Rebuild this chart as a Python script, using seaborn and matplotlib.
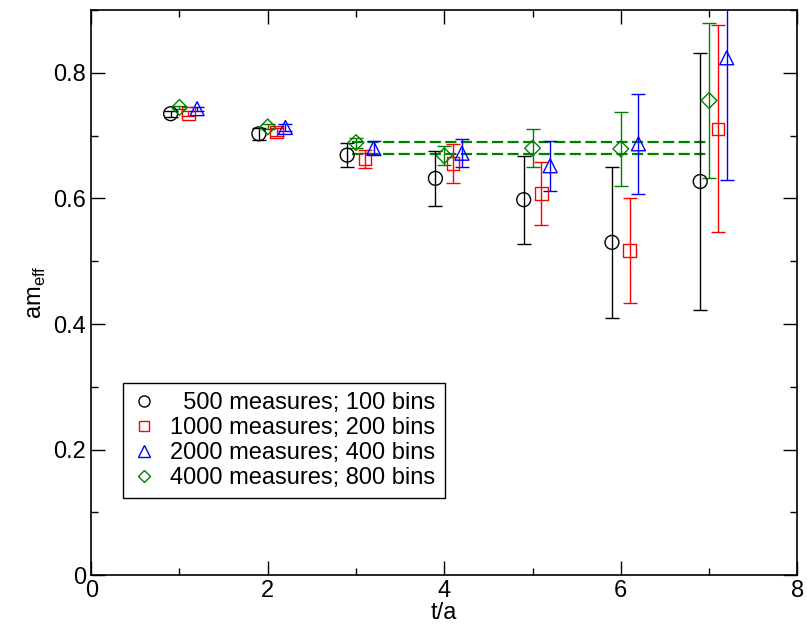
import numpy as np
import pandas as pd
import seaborn as sns
import matplotlib.pyplot as plt
from matplotlib.ticker import MultipleLocator

# effective mass plateau, four statistics
t = [1, 2, 3, 4, 5, 6, 7]
labels = ["  500 measures; 100 bins", "1000 measures; 200 bins",
          "2000 measures; 400 bins", "4000 measures; 800 bins"]
m500 = [0.735, 0.703, 0.669, 0.632, 0.598, 0.530, 0.627]
e500 = [0.005, 0.010, 0.019, 0.044, 0.070, 0.120, 0.205]
m1000 = [0.735, 0.706, 0.663, 0.656, 0.608, 0.517, 0.711]
e1000 = [0.004, 0.007, 0.014, 0.031, 0.050, 0.083, 0.165]
m2000 = [0.743, 0.713, 0.680, 0.672, 0.652, 0.687, 0.824]
e2000 = [0.003, 0.005, 0.011, 0.022, 0.040, 0.080, 0.195]
m4000 = [0.745, 0.714, 0.689, 0.668, 0.680, 0.679, 0.756]
e4000 = [0.003, 0.004, 0.008, 0.015, 0.030, 0.059, 0.124]
shift = [-0.1, 0.1, 0.2, 0.0]

# fit band for the 4000-measure set
band = [0.671, 0.690]
band_t = [2.96, 7.0]

df = pd.DataFrame({
    "t": np.tile(t, 4),
    "m": m500 + m1000 + m2000 + m4000,
    "e": e500 + e1000 + e2000 + e4000,
    "set": np.repeat(labels, len(t)),
})

sns.set_style("ticks")
plt.rcParams["font.family"] = ["Liberation Sans", "DejaVu Sans"]
plt.rcParams["text.color"] = "black"
plt.rcParams["axes.labelcolor"] = "black"
plt.rcParams["xtick.color"] = "black"
plt.rcParams["ytick.color"] = "black"

colors = ["black", "red", "blue", "green"]
markers = ["o", "s", "^", "D"]
msizes = [10, 9, 10, 8]

fig, ax = plt.subplots(figsize=(8.07, 6.32), dpi=100)
fig.subplots_adjust(left=0.113, right=0.988, bottom=0.090, top=0.984)

for i, lab in enumerate(labels):
    d = df[df["set"] == lab]
    x = d["t"] + shift[i]
    ax.errorbar(x, d["m"], yerr=d["e"], fmt="none", ecolor=colors[i],
                elinewidth=1, capsize=5, capthick=1, zorder=2)
    sns.scatterplot(x=x, y=d["m"], ax=ax, marker=markers[i], s=msizes[i] ** 2,
                    facecolors="none", edgecolor=colors[i], linewidth=1,
                    zorder=3)
    ax.plot([], [], linestyle="none", marker=markers[i], markersize=msizes[i] * 0.8,
            markerfacecolor="none", markeredgecolor=colors[i], label=lab)

for b in band:
    ax.plot(band_t, [b, b], color="green", linestyle="--", dashes=(5, 2),
            linewidth=1.6, zorder=1)

ax.set_xlim(0, 8)
ax.set_ylim(0, 0.9)
ax.xaxis.set_minor_locator(MultipleLocator(1))
ax.yaxis.set_minor_locator(MultipleLocator(0.1))
ax.set_xticks([0, 2, 4, 6, 8])
ax.set_xticklabels(["0", "2", "4", "6", "8"])
ax.set_yticks([0, 0.2, 0.4, 0.6, 0.8])
ax.set_yticklabels(["0", "0.2", "0.4", "0.6", "0.8"])
ax.tick_params(which="both", direction="in", top=True, right=True, labelsize=17,
               color="black", labelcolor="black", width=1)
ax.tick_params(which="major", length=10)
ax.tick_params(which="minor", length=5)
for s in ax.spines.values():
    s.set_linewidth(1.2)
    s.set_color("black")

ax.set_xlabel("t/a", fontsize=17, labelpad=0)
ax.set_ylabel(r"am$_\mathregular{eff}$", fontsize=17, labelpad=4)

leg = ax.legend(loc="lower left", bbox_to_anchor=(0.045, 0.136), borderaxespad=0,
                fontsize=17, frameon=True, fancybox=False, edgecolor="black",
                framealpha=1, handlelength=1.0, handletextpad=0.6,
                labelspacing=0.12, borderpad=0.4)
leg.get_frame().set_linewidth(1)

fig.savefig("out.png", dpi=100)
